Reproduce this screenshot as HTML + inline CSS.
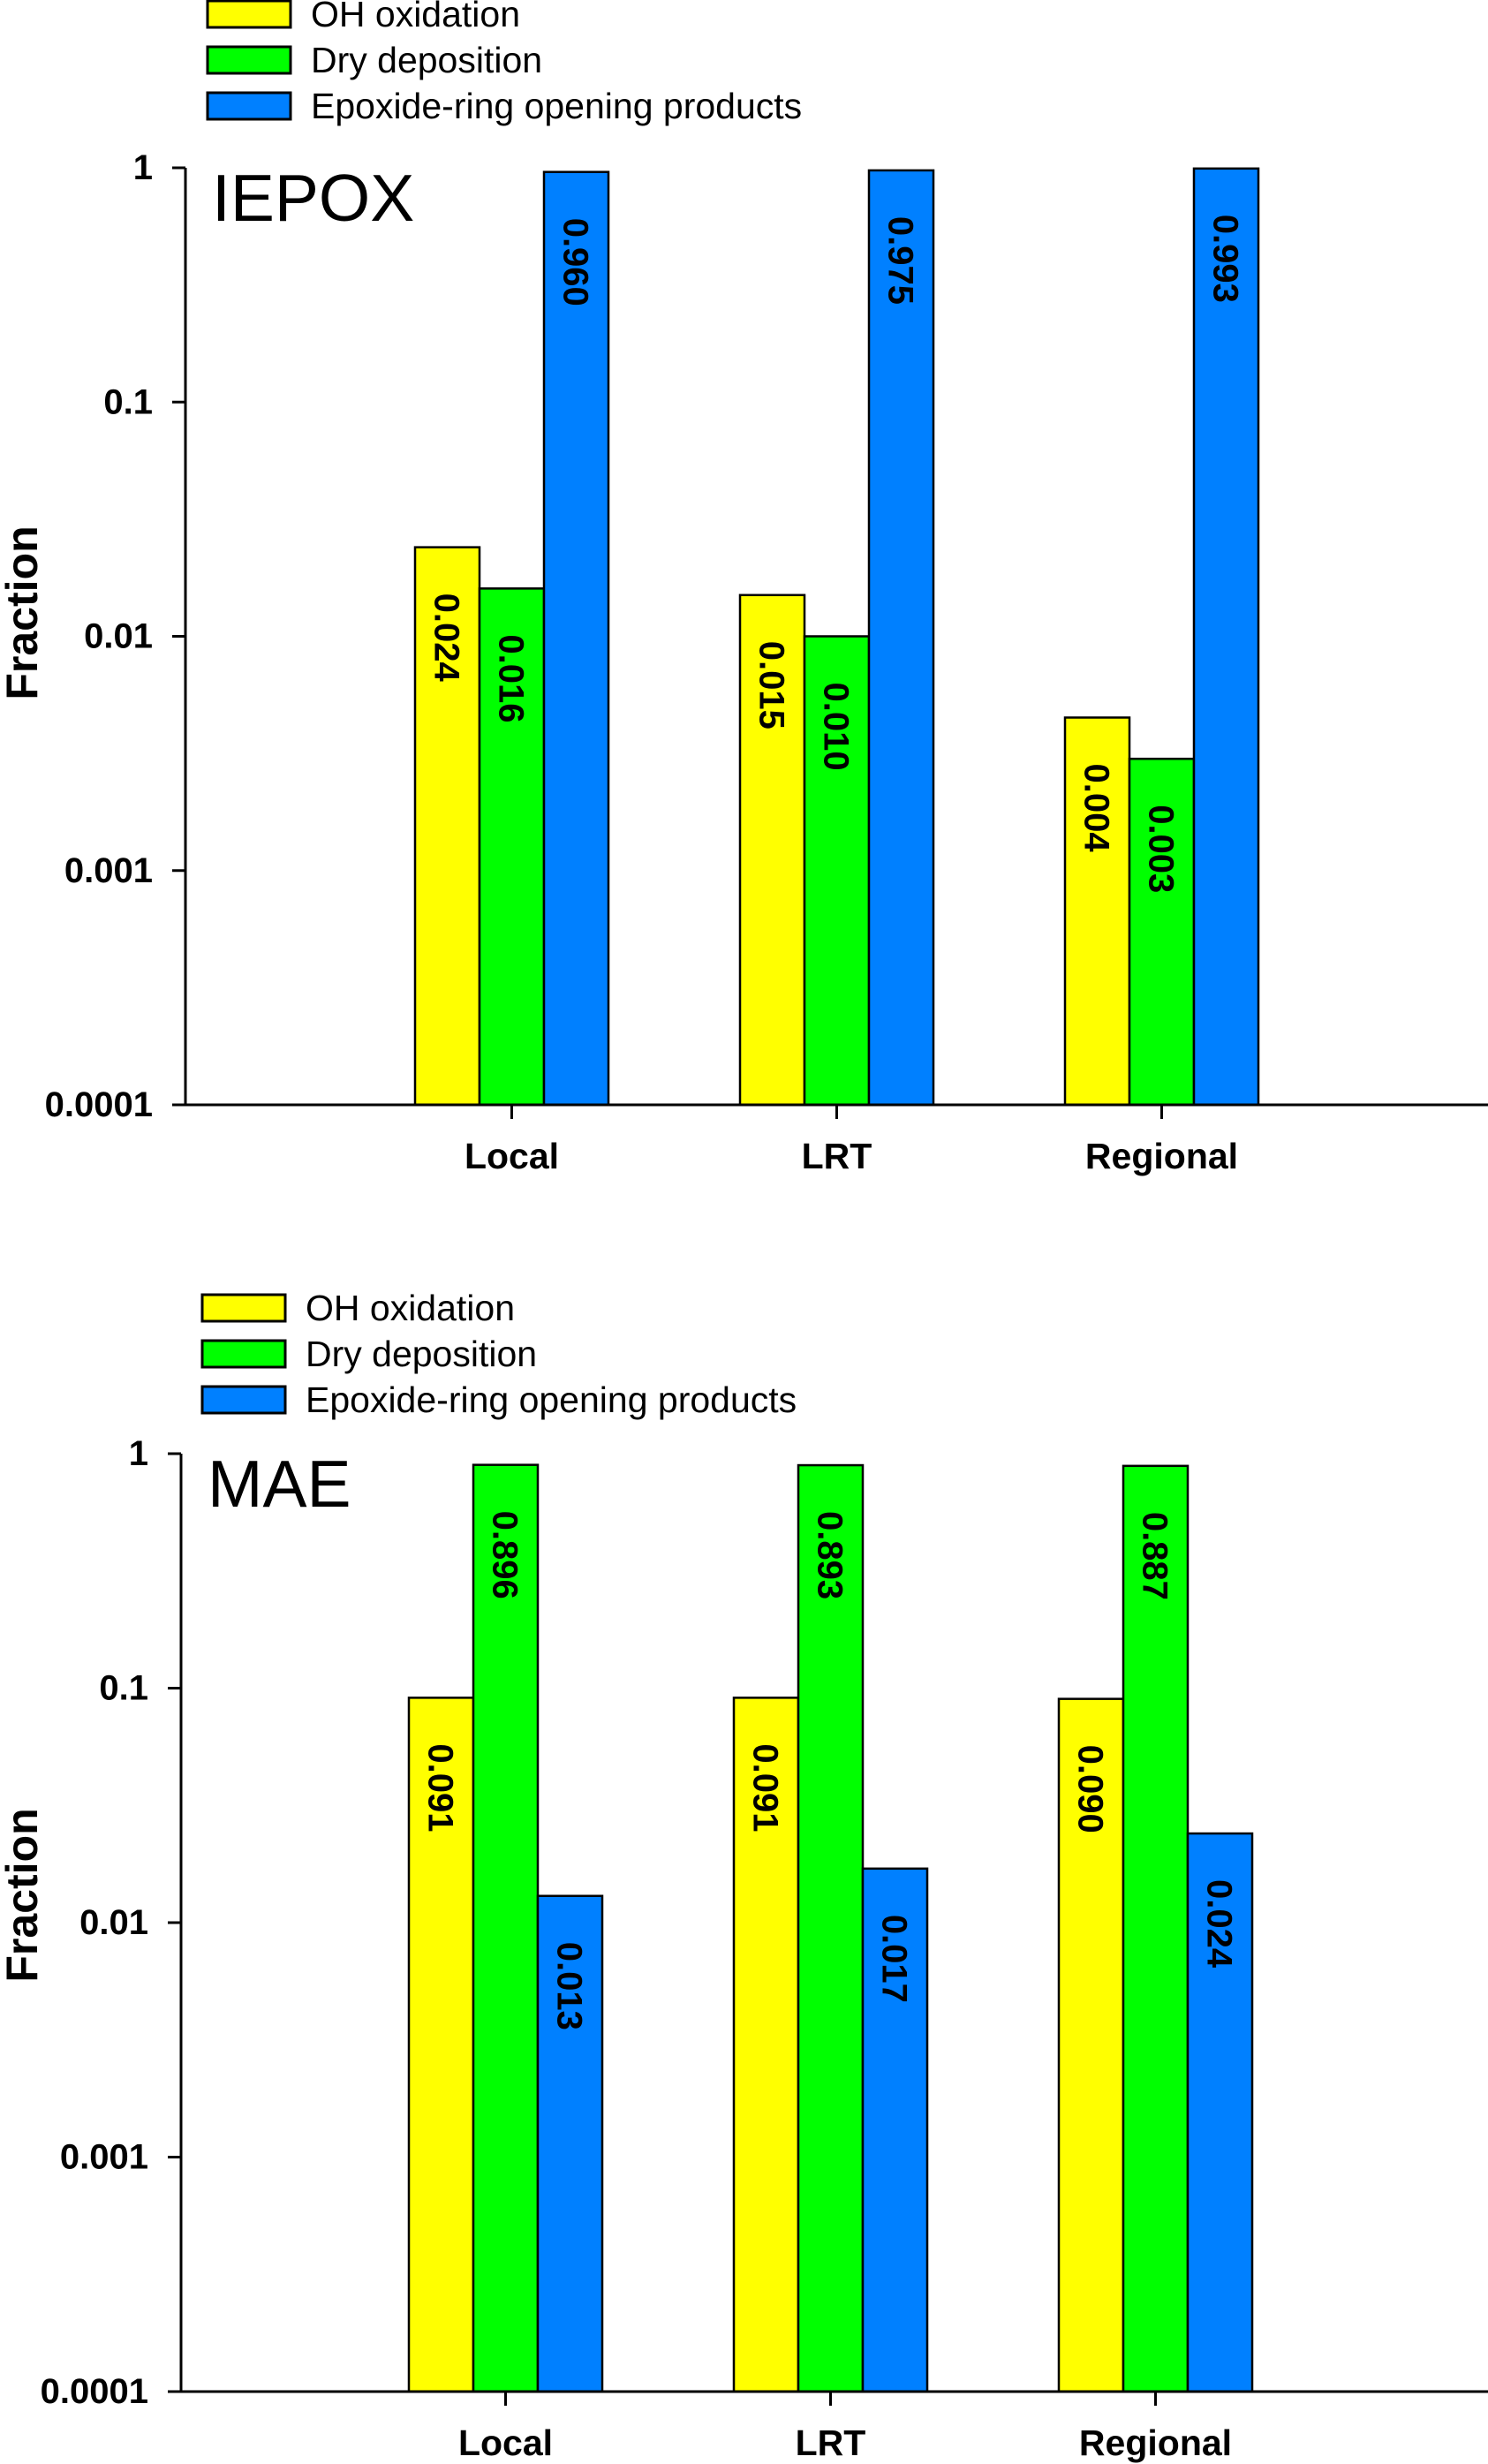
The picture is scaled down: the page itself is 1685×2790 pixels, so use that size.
<!DOCTYPE html>
<html><head><meta charset="utf-8">
<style>
html,body{margin:0;padding:0;background:#fff;}
svg{display:block;font-family:"Liberation Sans",Arial,sans-serif;}
</style></head>
<body>
<svg id="root" width="1685" height="2790" viewBox="0 0 1685 2790" xmlns="http://www.w3.org/2000/svg"></svg>
<script>
const categories = ["Local","LRT","Regional"];
const seriesNames = ["OH oxidation","Dry deposition","Epoxide-ring opening products"];
const seriesColors = ["#ffff00","#00ff00","#0080ff"];
const yTicks = [1,0.1,0.01,0.001,0.0001];
const yTickLabels = ["1","0.1","0.01","0.001","0.0001"];
// IEPOX
const iepoxOH = [0.024,0.015,0.0045];
const iepoxDry = [0.016,0.010,0.003];
const iepoxEpox = [0.960,0.975,0.993];
const iepoxOHLabels = ["0.024","0.015","0.004"];
const iepoxDryLabels = ["0.016","0.010","0.003"];
const iepoxEpoxLabels = ["0.960","0.975","0.993"];
// MAE
const maeOH = [0.091,0.091,0.090];
const maeDry = [0.896,0.893,0.887];
const maeEpox = [0.013,0.017,0.024];
const maeOHLabels = ["0.091","0.091","0.090"];
const maeDryLabels = ["0.896","0.893","0.887"];
const maeEpoxLabels = ["0.013","0.017","0.024"];

const NS="http://www.w3.org/2000/svg";
const root=document.getElementById('root');
function mk(tag,attrs,parent,text){const e=document.createElementNS(NS,tag);for(const k in attrs)e.setAttribute(k,attrs[k]);if(text!==undefined)e.textContent=text;(parent||root).appendChild(e);return e;}

function drawChart(cfg){
  const g=mk('g',{});
  
  
  const yTop=cfg.yTop, yBot=cfg.yBot, x0=cfg.x0, xEnd=1685;
  const decades=4;
  const y=v=>yBot-(Math.log10(v)+4)/decades*(yBot-yTop);
  const groupW=368, barW=73;
  const firstBar=cfg.firstBar;
  const xCat=i=>firstBar+i*groupW+1.5*barW;
  // legend
  const lg=mk('g',{},g);
  
  
  seriesNames.forEach((s,k)=>{
    const ly=cfg.legY+k*52;
    const r=mk('rect',{x:cfg.legX,y:ly-15,width:94,height:30,fill:seriesColors[k],stroke:'#000','stroke-width':3},lg);
    
    
    const t=mk('text',{x:cfg.legX+117,y:ly+14,'font-size':41},lg,s);
    
    
  });
  // title
  const tt=mk('text',{x:cfg.x0+30,y:yTop+60,'font-size':75},g,cfg.title);
  
  
  // bars
  const series=[cfg.oh,cfg.dry,cfg.epox], labels=[cfg.ohL,cfg.dryL,cfg.epoxL];
  categories.forEach((c,i)=>{
    series.forEach((arr,k)=>{
      const bx=firstBar+i*groupW+k*barW, by=y(arr[i]);
      const r=mk('rect',{x:bx,y:by,width:barW,height:yBot-by,fill:seriesColors[k],stroke:'#000','stroke-width':2.5},g);
      
      
      const cx=bx+barW/2, ty=by+52;
      const t=mk('text',{x:0,y:0,'font-size':40,'font-weight':'bold',transform:`translate(${cx-14},${ty}) rotate(90)`},g,labels[k][i]);
      
      
    });
  });
  // axes
  const ax=mk('line',{x1:x0,y1:yTop,x2:x0,y2:yBot,stroke:'#000','stroke-width':3},g);
  
  
  const bx=mk('line',{x1:x0-15,y1:yBot,x2:xEnd,y2:yBot,stroke:'#000','stroke-width':3},g);
  
  
  yTicks.forEach((v,j)=>{
    const ty=y(v);
    mk('line',{x1:x0-15,y1:ty,x2:x0,y2:ty,stroke:'#000','stroke-width':3},g);
    const t=mk('text',{x:x0-37,y:ty+13,'font-size':40,'font-weight':'bold','text-anchor':'end'},g,yTickLabels[j]);
    
    
  });
  categories.forEach((c,i)=>{
    const cx=xCat(i);
    mk('line',{x1:cx,y1:yBot,x2:cx,y2:yBot+16,stroke:'#000','stroke-width':3},g);
    const t=mk('text',{x:cx,y:yBot+72,'font-size':41,'font-weight':'bold','text-anchor':'middle'},g,c);
    
    
  });
  const yl=mk('text',{x:0,y:0,'font-size':50,'font-weight':'bold','text-anchor':'middle',transform:`translate(42,${cfg.ylabelY}) rotate(-90)`},g,'Fraction');
  
  
}
drawChart({name:'iepox',title:'IEPOX',yTop:190,yBot:1251,x0:210,firstBar:470,legX:235,legY:16,ylabelY:694,
  oh:iepoxOH,dry:iepoxDry,epox:iepoxEpox,ohL:iepoxOHLabels,dryL:iepoxDryLabels,epoxL:iepoxEpoxLabels});
drawChart({name:'mae',title:'MAE',yTop:1646,yBot:2708,x0:205,firstBar:463,legX:229,legY:1481,ylabelY:2146,
  oh:maeOH,dry:maeDry,epox:maeEpox,ohL:maeOHLabels,dryL:maeDryLabels,epoxL:maeEpoxLabels});
</script>
</body></html>
